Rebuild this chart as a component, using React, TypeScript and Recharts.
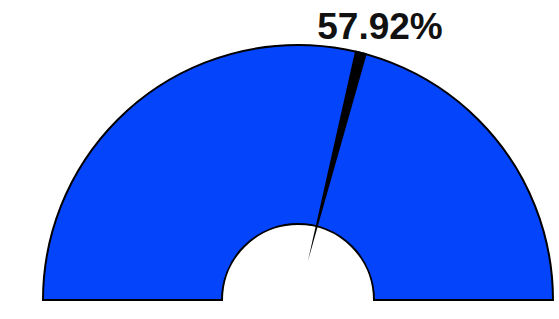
import { Pie, PieChart } from "recharts"

const gaugeValue = 57.92
const gaugeMax = 100
const trackData = [{ name: "track", value: gaugeMax }]
const valueData = [
  { name: "value", value: gaugeValue },
  { name: "rest", value: gaugeMax - gaugeValue },
]

const RAD = Math.PI / 180

function renderNeedle(props: any) {
  if (props.index !== 0) return null
  const { cx, cy, endAngle, outerRadius } = props
  const a = endAngle * RAD
  const dx = Math.cos(a)
  const dy = -Math.sin(a)
  const px = -dy
  const py = dx
  const baseR = outerRadius + 1
  const tipR = 40
  const half = 6
  const bx = cx + baseR * dx
  const by = cy + baseR * dy
  const points = [
    [bx + half * px, by + half * py],
    [bx - half * px, by - half * py],
    [cx + tipR * dx, cy + tipR * dy],
  ]
    .map((p) => p.join(","))
    .join(" ")
  return (
    <g>
      <polygon points={points} fill="#000" />
      <text
        x={bx + 19}
        y={39}
        textAnchor="middle"
        fontFamily="'Liberation Sans', Arial, sans-serif"
        fontWeight="bold"
        fontSize={37}
        fill="#111"
      >
        {`${gaugeValue}%`}
      </text>
    </g>
  )
}

export default function App() {
  return (
    <div style={{ position: "absolute", left: 0, top: 0, background: "#fff" }}>
      <PieChart width={559} height={319} margin={{ top: 0, right: 0, bottom: 0, left: 0 }}>
        <Pie
          data={trackData}
          dataKey="value"
          cx={298}
          cy={300}
          startAngle={180}
          endAngle={0}
          innerRadius={76}
          outerRadius={255}
          fill="#0444fb"
          stroke="#000"
          strokeWidth={2}
          isAnimationActive={false}
        />
        <Pie
          data={valueData}
          dataKey="value"
          cx={298}
          cy={300}
          startAngle={180}
          endAngle={0}
          innerRadius={76}
          outerRadius={255}
          fill="none"
          stroke="none"
          label={renderNeedle}
          labelLine={false}
          isAnimationActive={false}
        />
      </PieChart>
    </div>
  )
}
